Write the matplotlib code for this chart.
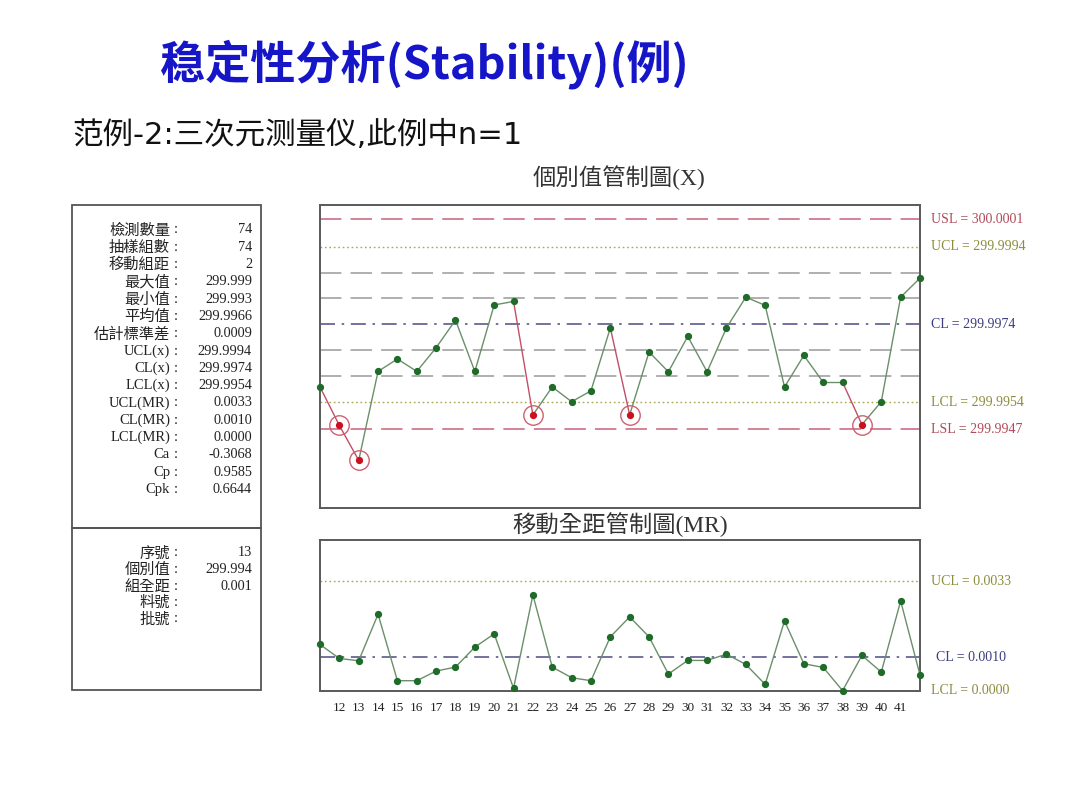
import matplotlib
matplotlib.use("Agg")
import matplotlib.pyplot as plt
from matplotlib.patches import Rectangle

# ---------------- data ----------------
sample_no = list(range(11, 43))
x_values = [299.99579, 299.99480, 299.99390, 299.99619, 299.99651, 299.99619, 299.99680,
            299.99751, 299.99619, 299.99790, 299.99799, 299.99507, 299.99579, 299.99541,
            299.99569, 299.99731, 299.99507, 299.99669, 299.99618, 299.99709, 299.99618,
            299.99731, 299.99810, 299.99789, 299.99579, 299.99660, 299.99591, 299.99591,
            299.99482, 299.99541, 299.99810, 299.99859]
mr_values = [0.00139, 0.00097, 0.00090, 0.00230, 0.00030, 0.00030, 0.00059, 0.00071,
             0.00131, 0.00171, 0.00007, 0.00288, 0.00071, 0.00039, 0.00030, 0.00162,
             0.00222, 0.00162, 0.00050, 0.00091, 0.00091, 0.00110, 0.00079, 0.00019,
             0.00210, 0.00081, 0.00070, 0.00000, 0.00106, 0.00056, 0.00270, 0.00047]
tick_labels = list(range(12, 42))

USL, UCL_X, CL_X, LCL_X, LSL = 300.0001, 299.9994, 299.9974, 299.9954, 299.9947
UCL_MR, CL_MR, LCL_MR = 0.0033, 0.0010, 0.0000

stat_labels = ["檢測數量", "抽樣組數", "移動組距", "最大值", "最小值", "平均值", "估計標準差",
               "UCL(x)", "CL(x)", "LCL(x)", "UCL(MR)", "CL(MR)", "LCL(MR)", "Ca", "Cp", "Cpk"]
stat_values = ["74", "74", "2", "299.999", "299.993", "299.9966", "0.0009", "299.9994",
               "299.9974", "299.9954", "0.0033", "0.0010", "0.0000", "-0.3068", "0.9585", "0.6644"]
info_labels = ["序號", "個別值", "組全距", "料號", "批號"]
info_values = ["13", "299.994", "0.001", "", ""]

title = "稳定性分析(Stability)(例)"
subtitle = "范例-2:三次元测量仪,此例中n=1"
x_title = "個別值管制圖(X)"
mr_title = "移動全距管制圖(MR)"

# ---------------- style ----------------
SERIF = ["Liberation Serif", "Noto Sans CJK TC", "DejaVu Sans"]
CJK_TC = ["Noto Sans CJK TC", "DejaVu Sans"]
CJK_SC = ["Noto Sans CJK SC", "DejaVu Sans"]
SUB_FONT = ["DejaVu Sans", "Noto Sans CJK SC"]
RED = "#c8607a"
OLIVE = "#a8a850"
GRAY = "#9a9a9a"
BLUE = "#5a5a8c"
LINE_GREEN = "#6a8f6a"
DOT_GREEN = "#1f6b2a"
PT_RED = "#cc1020"

W, H = 1080, 810
fig = plt.figure(figsize=(W / 100, H / 100), dpi=100)
fig.patch.set_facecolor("white")


def fx(px):
    return px / W


def fy(py):
    return 1 - py / H


def has_cjk(s):
    return any(ord(ch) > 0x2E80 for ch in s)


# titles
fig.text(fx(424), fy(64), title, family=CJK_SC, fontsize=32.5, fontweight="bold",
         color="#1616c8", ha="center", va="center")
fig.text(fx(72), fy(135), subtitle, family=SUB_FONT, fontsize=22, color="#111111",
         ha="left", va="center")
fig.text(fx(619), fy(178), x_title, family=SERIF, fontsize=16.8, color="#333333",
         ha="center", va="center")
fig.text(fx(620), fy(525), mr_title, family=SERIF, fontsize=16.8, color="#333333",
         ha="center", va="center")

# left panel boxes
for top, bot in [(205, 528), (528, 690)]:
    fig.patches.append(Rectangle((fx(72), fy(bot)), fx(261) - fx(72), fy(top) - fy(bot),
                                 transform=fig.transFigure, fill=False,
                                 edgecolor="#555555", linewidth=1.3))


def panel_row(y, lab, val):
    if has_cjk(lab):
        fig.text(fx(170), fy(y), lab, family=CJK_TC, fontsize=11, color="#222222",
                 ha="right", va="center")
    else:
        fig.text(fx(170), fy(y), lab, family=SERIF, fontsize=10.5, color="#222222",
                 ha="right", va="center")
    fig.text(fx(174), fy(y), ":", family=SERIF, fontsize=10.5, color="#222222",
             ha="left", va="center")
    if val:
        fig.text(fx(252), fy(y), val, family=SERIF, fontsize=10.3, color="#222222",
                 ha="right", va="center")


for i, (lab, val) in enumerate(zip(stat_labels, stat_values)):
    panel_row(230 + i * 17.3, lab, val)
for i, (lab, val) in enumerate(zip(info_labels, info_values)):
    panel_row(553 + i * 16.5, lab, val)

# ---------------- X chart ----------------
ax = fig.add_axes([fx(320), fy(508), fx(920) - fx(320), fy(205) - fy(508)])
ax.set_xlim(11, 42)
ax.set_ylim(299.992675, 300.000472)
sigma = (UCL_X - CL_X) / 3
ax.axhline(USL, color=RED, lw=1.1, dashes=(14, 6))
ax.axhline(LSL, color=RED, lw=1.1, dashes=(14, 6))
ax.axhline(UCL_X, color=OLIVE, lw=1.0, dashes=(1.2, 2))
ax.axhline(LCL_X, color=OLIVE, lw=1.0, dashes=(1.2, 2))
for k in (-2, -1, 1, 2):
    ax.axhline(CL_X + k * sigma, color=GRAY, lw=1.1, dashes=(14, 6))
ax.axhline(CL_X, color=BLUE, lw=1.2, dashes=(9, 4, 1.5, 4))

flags = [v < LCL_X for v in x_values]
for i in range(len(x_values) - 1):
    c = "#c0506a" if flags[i + 1] else LINE_GREEN
    ax.plot(sample_no[i:i + 2], x_values[i:i + 2], color=c, lw=1.0, zorder=3)
for xi, v, f in zip(sample_no, x_values, flags):
    if f:
        ax.plot(xi, v, "o", ms=14, mfc="none", mec="#d06070", mew=1.0, zorder=4)
        ax.plot(xi, v, "o", ms=4.2, color=PT_RED, zorder=5)
    else:
        ax.plot(xi, v, "o", ms=4.2, color=DOT_GREEN, zorder=5, clip_on=False)
ax.set_xticks([])
ax.set_yticks([])
for s in ax.spines.values():
    s.set_color("#5a5a5a")
    s.set_linewidth(1.4)

right_labels = [(USL, "USL = 300.0001", "#b04a5a"), (UCL_X, "UCL = 299.9994", "#8c8c3c"),
                (CL_X, "CL = 299.9974", "#3c3c80"), (LCL_X, "LCL = 299.9954", "#8c8c3c"),
                (LSL, "LSL = 299.9947", "#b04a5a")]
for v, t, c in right_labels:
    ax.text(1.018, v, t, transform=ax.get_yaxis_transform(), family=SERIF,
            fontsize=10, color=c, ha="left", va="center")

# ---------------- MR chart ----------------
ax2 = fig.add_axes([fx(320), fy(691), fx(920) - fx(320), fy(539.5) - fy(691)])
ax2.set_xlim(11, 42)
ax2.set_ylim(-0.00001, 0.00455)
ax2.axhline(UCL_MR, color=OLIVE, lw=1.0, dashes=(1.2, 2))
ax2.axhline(CL_MR, color=BLUE, lw=1.2, dashes=(9, 4, 1.5, 4))
ax2.plot(sample_no, mr_values, color=LINE_GREEN, lw=1.0, zorder=3)
ax2.plot(sample_no, mr_values, "o", ms=4.2, color=DOT_GREEN, zorder=5, clip_on=False)
ax2.set_yticks([])
ax2.set_xticks(tick_labels)
ax2.set_xticklabels([str(t) for t in tick_labels], family=SERIF, fontsize=9.5,
                    color="#222222")
ax2.tick_params(axis="x", length=0, pad=8)
for s in ax2.spines.values():
    s.set_color("#5a5a5a")
    s.set_linewidth(1.4)

mr_labels = [(UCL_MR, "UCL = 0.0033", "#8c8c3c", 1.018), (CL_MR, "CL = 0.0010", "#3c3c80", 1.026),
             (LCL_MR, "LCL = 0.0000", "#8c8c3c", 1.018)]
for v, t, c, xx in mr_labels:
    ax2.text(xx, v, t, transform=ax2.get_yaxis_transform(), family=SERIF,
             fontsize=10, color=c, ha="left", va="center")

fig.savefig("out.png", dpi=100, facecolor="white")
